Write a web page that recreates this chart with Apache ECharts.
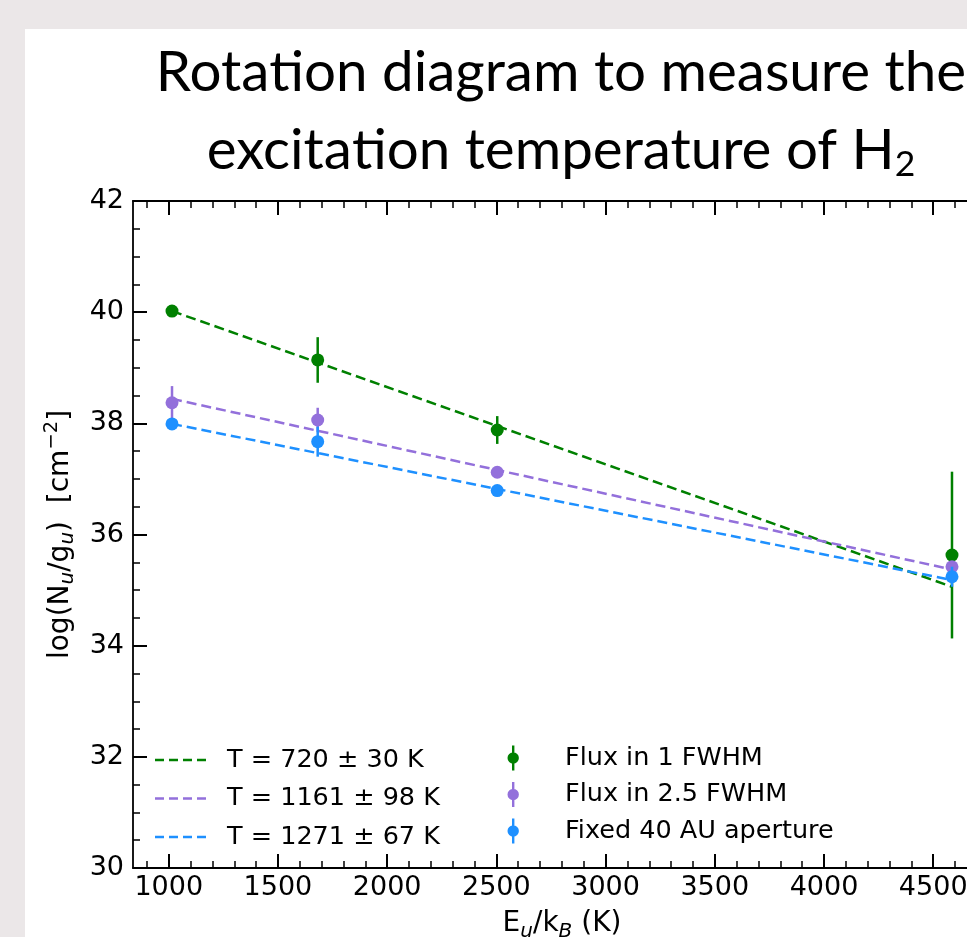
<!DOCTYPE html>
<html>
<head>
<meta charset="utf-8">
<script src="https://cdn.jsdelivr.net/npm/echarts@6/dist/echarts.min.js"></script>
<style>
  html, body { margin: 0; padding: 0; width: 967px; height: 937px; overflow: hidden; background: #ebe7e8; }
  #chart { position: absolute; left: 25px; top: 29px; width: 1072px; height: 1000px; background: #fff; }
</style>
</head>
<body>
<div id="chart"></div>
<script>
// energies of the upper levels E_u/k_B (K)
const energies = [1015, 1682, 2504, 4586];

// log(N_u/g_u) and errors for the three apertures
const flux1 = [40.02, 39.14, 37.88, 35.63];
const flux1Err = [0.05, 0.41, 0.25, 1.5];
const flux25 = [38.37, 38.06, 37.12, 35.42];
const flux25Err = [0.3, 0.22, 0.05, 0.06];
const fixed40 = [37.99, 37.67, 36.79, 35.24];
const fixed40Err = [0.07, 0.27, 0.05, 0.18];

// fitted lines (values at first and last energy)
const fitX = [1015, 4586];
const fit720 = [40.02, 35.06];
const fit1161 = [38.44, 35.37];
const fit1271 = [37.99, 35.18];

const fitNames = ['T = 720 ± 30 K', 'T = 1161 ± 98 K', 'T = 1271 ± 67 K'];
const pointNames = ['Flux in 1 FWHM', 'Flux in 2.5 FWHM', 'Fixed 40 AU aperture'];

// tick positions
const xMajor = [1000, 1500, 2000, 2500, 3000, 3500, 4000, 4500];
const xMinor = [900, 1000, 1100, 1200, 1300, 1400, 1500, 1600, 1700, 1800, 1900, 2000, 2100, 2200, 2300, 2400,
  2500, 2600, 2700, 2800, 2900, 3000, 3100, 3200, 3300, 3400, 3500, 3600, 3700, 3800, 3900, 4000, 4100, 4200,
  4300, 4400, 4500, 4600, 4700];

const colors = ['#008000', '#9370db', '#1e90ff'];

const font = 'DejaVu Sans';
const xMin = 836.4, xMax = 4764.6;

const chart = echarts.init(document.getElementById('chart'));

const zip = (ys, errs) => energies.map((e, i) => [e, ys[i], errs[i]]);

// errorbar + marker
const renderPoint = (params, api) => {
  const x = api.value(0), y = api.value(1), e = api.value(2);
  const c = api.coord([x, y]);
  const top = api.coord([x, y + e]);
  const bot = api.coord([x, y - e]);
  const color = api.visual('color');
  return {
    type: 'group',
    children: [
      { type: 'line', shape: { x1: top[0], y1: top[1], x2: bot[0], y2: bot[1] }, style: { stroke: color, lineWidth: 2.5 } },
      { type: 'circle', shape: { cx: c[0], cy: c[1], r: 6.5 }, style: { fill: color } }
    ]
  };
};

const fitSeries = (name, ys, color) => ({
  name: name,
  type: 'line',
  data: fitX.map((x, i) => [x, ys[i]]),
  symbol: 'none',
  color: color,
  itemStyle: { color: color },
  lineStyle: { color: color, width: 2.5, type: [10, 5] },
  z: 2
});

const pointSeries = (name, data, color) => ({
  name: name,
  type: 'custom',
  data: data,
  itemStyle: { color: color },
  renderItem: renderPoint,
  z: 3
});

const dashIcon = 'path://M0,0h9v2.5h-9z M14,0h9v2.5h-9z M28,0h9v2.5h-9z M42,0h9v2.5h-9z M67,1h0.01v0.01h-0.01z';
const barIcon = 'path://M4.5,0h2.4v25h-2.4z M0,12.5a5.7,5.7 0 1,1 11.4,0a5.7,5.7 0 1,1 -11.4,0z M52.5,12h0.01v0.01h-0.01z';

const tickLine = { color: '#000', width: 2 };
const sub = { fontFamily: font, fontSize: 20, fontStyle: 'italic', lineHeight: 22, padding: [16, 0, 0, 0], color: '#000' };
const subUp = { fontFamily: font, fontSize: 19.5, lineHeight: 22, padding: [0, 0, 17, 0], color: '#000' };
const normal = { fontFamily: font, fontSize: 28, lineHeight: 32, color: '#000' };

// title pieces are split around "ti" so Lato does not join them into a ligature
const titleRich = {
  n: { fontFamily: 'Lato', fontSize: 56.5, lineHeight: 62, fill: '#000' },
  s: { fontFamily: 'Lato', fontSize: 35.5, lineHeight: 38, padding: [28, 0, 0, 0], fill: '#000' }
};

const option = {
  animation: false,
  graphic: [
    {
      type: 'text',
      x: 536, y: 44,
      style: {
        text: '{n|Rota}{n|tion diagram to measure the}',
        align: 'center', verticalAlign: 'middle',
        rich: titleRich
      }
    },
    {
      type: 'text',
      x: 536, y: 121.5,
      style: {
        text: '{n|exci}{n|ta}{n|tion temperature of H}{s|2}',
        align: 'center', verticalAlign: 'middle',
        rich: titleRich
      }
    }
  ],
  grid: { left: 108, top: 172, width: 858, height: 667, outerBoundsMode: 'none' },
  legend: [
    {
      data: fitNames,
      orient: 'vertical',
      left: 130, top: 718, padding: 0,
      icon: dashIcon,
      itemWidth: 67, itemHeight: 2.5, itemGap: 12.5,
      selectedMode: false,
      textStyle: { fontFamily: font, fontSize: 25.5, color: '#000', lineHeight: 25 }
    },
    {
      data: pointNames,
      orient: 'vertical',
      left: 482.5, top: 716, padding: 0,
      icon: barIcon,
      itemWidth: 52.5, itemHeight: 25, itemGap: 10.5,
      selectedMode: false,
      textStyle: { fontFamily: font, fontSize: 25.5, color: '#000', lineHeight: 25 }
    }
  ],
  xAxis: [
    {
      type: 'value', position: 'bottom', min: xMin, max: xMax,
      axisLine: { lineStyle: { color: '#000', width: 1.8 } },
      axisTick: { inside: true, length: 14, lineStyle: tickLine, customValues: xMajor },
      axisLabel: { customValues: xMajor, formatter: v => String(v), fontFamily: font, fontSize: 27, color: '#000', margin: 6 },
      splitLine: { show: false },
      name: '{n|E}{s|u}{n|/k}{s|B}{n| (K)}',
      nameLocation: 'middle', nameGap: 36,
      nameTextStyle: { rich: { n: normal, s: sub } }
    },
    {
      type: 'value', position: 'bottom', min: xMin, max: xMax,
      axisLine: { show: false },
      axisTick: { inside: true, length: 7, lineStyle: { color: '#000', width: 1.5 }, customValues: xMinor },
      axisLabel: { show: false },
      splitLine: { show: false }
    },
    {
      type: 'value', position: 'top', min: xMin, max: xMax,
      axisLine: { lineStyle: { color: '#000', width: 1.8 } },
      axisTick: { inside: true, length: 14, lineStyle: tickLine, customValues: xMajor },
      axisLabel: { show: false },
      splitLine: { show: false }
    },
    {
      type: 'value', position: 'top', min: xMin, max: xMax,
      axisLine: { show: false },
      axisTick: { inside: true, length: 7, lineStyle: { color: '#000', width: 1.5 }, customValues: xMinor },
      axisLabel: { show: false },
      splitLine: { show: false }
    }
  ],
  yAxis: [
    {
      type: 'value', position: 'left', min: 30, max: 42, interval: 2,
      axisLine: { show: true, lineStyle: { color: '#000', width: 1.8 } },
      axisTick: { show: true, inside: true, length: 14, lineStyle: tickLine },
      minorTick: { show: true, splitNumber: 4, length: 7, lineStyle: { color: '#000', width: 1.5 } },
      axisLabel: { fontFamily: font, fontSize: 27, color: '#000', margin: 9 },
      splitLine: { show: false },
      name: '{n|log(N}{s|u}{n|/g}{s|u}{n|)  [cm}{p|−2}{n|]}',
      nameLocation: 'middle', nameGap: 44, nameRotate: 90,
      nameTextStyle: { rich: { n: normal, s: sub, p: subUp } }
    },
    {
      type: 'value', position: 'right', min: 30, max: 42, interval: 2,
      axisLine: { show: true, lineStyle: { color: '#000', width: 1.8 } },
      axisTick: { show: true, inside: true, length: 14, lineStyle: tickLine },
      minorTick: { show: true, splitNumber: 4, length: 7, lineStyle: { color: '#000', width: 1.5 } },
      axisLabel: { show: false },
      splitLine: { show: false }
    }
  ],
  series: [
    fitSeries(fitNames[0], fit720, colors[0]),
    fitSeries(fitNames[1], fit1161, colors[1]),
    fitSeries(fitNames[2], fit1271, colors[2]),
    pointSeries(pointNames[0], zip(flux1, flux1Err), colors[0]),
    pointSeries(pointNames[1], zip(flux25, flux25Err), colors[1]),
    pointSeries(pointNames[2], zip(fixed40, fixed40Err), colors[2])
  ]
};

chart.setOption(option);
</script>
</body>
</html>
